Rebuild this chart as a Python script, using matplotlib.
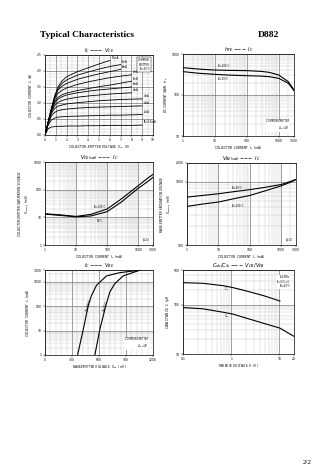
import matplotlib
matplotlib.use('Agg')
import matplotlib.pyplot as plt
from matplotlib.ticker import MultipleLocator, FixedLocator

W, H = 336, 475

# --- plot 1: IC - VCE
vce_pts = [0, 0.3, 0.6, 0.9, 1.2, 1.6, 2.0, 3.0, 4.0, 5.0, 6.0, 7.0, 8.0, 9.0]
ib_labels = ['10mA', '9mA', '8mA', '7mA', '6mA', '5mA', '4mA', '3mA', '2mA', '1mA', 'IB=0.5mA']
ic_curves = [
    [0, 0.42, 0.84, 1.22, 1.50, 1.70, 1.82, 1.98, 2.10, 2.22, 2.33],
    [0, 0.42, 0.83, 1.20, 1.45, 1.62, 1.72, 1.87, 1.97, 2.06, 2.14, 2.20],
    [0, 0.42, 0.82, 1.17, 1.40, 1.53, 1.61, 1.74, 1.83, 1.91, 1.98, 2.05],
    [0, 0.41, 0.80, 1.12, 1.30, 1.40, 1.47, 1.58, 1.66, 1.73, 1.79, 1.84, 1.88],
    [0, 0.41, 0.78, 1.05, 1.18, 1.26, 1.31, 1.39, 1.45, 1.51, 1.56, 1.62, 1.68],
    [0, 0.40, 0.76, 1.00, 1.12, 1.20, 1.25, 1.32, 1.37, 1.41, 1.44, 1.47, 1.50],
    [0, 0.39, 0.72, 0.92, 1.02, 1.08, 1.12, 1.18, 1.22, 1.25, 1.28, 1.30, 1.32],
    [0, 0.38, 0.68, 0.83, 0.90, 0.94, 0.97, 1.01, 1.04, 1.07, 1.09, 1.11, 1.12, 1.13],
    [0, 0.36, 0.60, 0.71, 0.76, 0.79, 0.81, 0.84, 0.86, 0.87, 0.88, 0.89, 0.90, 0.91],
    [0, 0.32, 0.47, 0.53, 0.56, 0.57, 0.58, 0.59, 0.60, 0.61, 0.62, 0.62, 0.63, 0.64],
    [0, 0.20, 0.25, 0.26, 0.27, 0.27, 0.28, 0.28, 0.29, 0.29, 0.30, 0.30, 0.30, 0.31],
]

# --- plot 2: hFE - IC
ic_hfe = [1, 3, 10, 30, 100, 300, 500, 1000, 2000, 3000]
hfe_100c = [464, 430, 406, 398, 393, 375, 357, 307, 211, 132]
hfe_25c = [371, 340, 319, 305, 296, 288, 280, 255, 193, 128]

# --- plot 3: VCE(sat) - IC
ic_sat = [1, 3, 10, 30, 100, 300, 1000, 2000, 3000]
vcesat_100c = [13.5, 12.3, 10.8, 12.8, 20, 48, 139, 257, 358]
vcesat_25c = [13.0, 11.8, 10.4, 11.2, 16, 37, 112, 194, 278]

# --- plot 4: VBE(sat) - IC
vbesat_25c = [575, 610, 650, 700, 755, 820, 910, 1020, 1100]
vbesat_100c = [410, 445, 480, 540, 610, 720, 865, 990, 1090]

# --- plot 5: IC - VBE
vbe_100c = [362, 425, 480, 517, 572, 683, 831, 1052]
ic_100c = [1, 11, 106, 275, 707, 1715, 2338, 2930]
vbe_25c = [554, 609, 676, 720, 775, 868, 1052]
ic_25c = [1, 11, 106, 376, 826, 1715, 2930]

# --- plot 6: Cob/Cib - VCB/VEB
vr_cib = [0.1, 0.26, 0.68, 1.09, 2.07, 4.61, 10.2]
cib = [277, 269, 241, 220, 188, 152, 118]
vr_cob = [0.1, 0.26, 0.68, 1.09, 2.07, 4.61, 10.2, 20]
cob = [87, 82, 70, 64, 53, 42, 33.4, 22.7]

TS = 2.2   # tick / label font size
LW = 0.8


def ax_at(fig, l, t, r, b):
    return fig.add_axes([l / W, 1 - b / H, (r - l) / W, (b - t) / H])


def style(ax):
    ax.tick_params(which='both', labelsize=TS, length=1.2, width=0.3, pad=1)
    ax.tick_params(which='minor', length=0)
    for s in ax.spines.values():
        s.set_linewidth(0.5)
    ax.grid(which='major', color='#666666', lw=0.45)
    ax.grid(which='minor', color='#b5b5b5', lw=0.25)
    ax.set_axisbelow(True)


fig = plt.figure(figsize=(W / 100, H / 100), dpi=100)
fig.text(40 / W, 1 - 35 / H, 'Typical Characteristics', family='Liberation Serif',
         weight='bold', fontsize=6.8, va='center')
fig.text(279 / W, 1 - 35 / H, 'D882', family='Liberation Serif',
         weight='bold', fontsize=6.8, va='center', ha='right')
fig.text(312 / W, 1 - 463 / H, '2/2', family='Liberation Serif', fontsize=5, ha='right', va='center')

# plot 1
ax = ax_at(fig, 45, 55, 153, 135)
for lab, ic in zip(ib_labels, ic_curves):
    v = vce_pts[:len(ic)]
    ax.plot(v, ic, color='k', lw=0.6)
    ax.text(v[-1] + 0.15, ic[-1] + 0.02, lab, fontsize=1.8, va='bottom')
ax.set_xlim(0, 10)
ax.set_ylim(0, 2.5)
ax.xaxis.set_major_locator(MultipleLocator(1))
ax.xaxis.set_minor_locator(MultipleLocator(0.5))
ax.yaxis.set_major_locator(MultipleLocator(0.5))
ax.yaxis.set_minor_locator(MultipleLocator(0.1))
style(ax)
ax.text(0.97, 0.96, 'COMMON\nEMITTER\nTa=25\u00b0C', transform=ax.transAxes, fontsize=1.8,
        ha='right', va='top', bbox=dict(fc='white', ec='k', lw=0.3, pad=0.8))
ax.set_title(r'$I_C$ $-\!\!-\!\!-$ $V_{CE}$', fontsize=3.6, pad=1.5)
ax.set_xlabel(r'COLLECTOR-EMITTER VOLTAGE  $V_{CE}$  (V)', fontsize=TS, labelpad=1)
ax.set_ylabel(r'COLLECTOR CURRENT  $I_C$  (A)', fontsize=TS, labelpad=1.5)

# plot 2
ax = ax_at(fig, 183, 54, 294, 136)
ax.plot(ic_hfe, hfe_100c, color='k', lw=LW)
ax.plot(ic_hfe, hfe_25c, color='k', lw=LW)
ax.set_xscale('log')
ax.set_yscale('log')
ax.set_xlim(1, 3000)
ax.set_ylim(10, 1000)
ax.xaxis.set_major_locator(FixedLocator([1, 10, 100, 1000, 3000]))
ax.set_xticklabels(['1', '10', '100', '1000', '3000'])
ax.set_yticks([10, 100, 1000])
ax.set_yticklabels(['10', '100', '1000'])
style(ax)
ax.text(12, 480, 'Ta=100\u00b0C', fontsize=1.8)
ax.text(12, 235, 'Ta=25\u00b0C', fontsize=1.8)
ax.text(0.96, 0.05, 'COMMON EMITTER\n$V_{CE}$=2V', transform=ax.transAxes, fontsize=1.8,
        ha='right', va='bottom', bbox=dict(fc='white', ec='none', pad=0.3))
ax.set_title(r'$h_{FE}$ $-\!\!-\!\!-$ $I_C$', fontsize=3.6, pad=1.5)
ax.set_xlabel(r'COLLECTOR CURRENT  $I_C$  (mA)', fontsize=TS, labelpad=1)
ax.set_ylabel(r'DC CURRENT GAIN  $h_{FE}$', fontsize=TS, labelpad=1.5)

# plot 3
ax = ax_at(fig, 45, 162, 153, 245)
ax.plot(ic_sat, vcesat_100c, color='k', lw=LW)
ax.plot(ic_sat, vcesat_25c, color='k', lw=LW)
ax.set_xscale('log')
ax.set_yscale('log')
ax.set_xlim(1, 3000)
ax.set_ylim(1, 1000)
ax.xaxis.set_major_locator(FixedLocator([1, 10, 100, 1000, 3000]))
ax.set_xticklabels(['1', '10', '100', '1000', '3000'])
ax.set_yticks([1, 10, 100, 1000])
ax.set_yticklabels(['1', '10', '100', '1000'])
style(ax)
ax.text(35, 22, 'Ta=100\u00b0C', fontsize=1.8)
ax.text(45, 7, '25\u00b0C', fontsize=1.8)
ax.text(0.97, 0.04, '\u03b2=10', transform=ax.transAxes, fontsize=1.8, ha='right', va='bottom',
        bbox=dict(fc='white', ec='none', pad=0.3))
ax.set_title(r'$V_{CE(sat)}$ $-\!\!-\!\!-$ $I_C$', fontsize=3.6, pad=1.5)
ax.set_xlabel(r'COLLECTOR CURRENT  $I_C$  (mA)', fontsize=TS, labelpad=1)
ax.set_ylabel('COLLECTOR-EMITTER SATURATION VOLTAGE\n' + r'$V_{CE(sat)}$  (mV)', fontsize=TS, labelpad=1.5)

# plot 4
ax = ax_at(fig, 187, 163, 296, 245)
ax.plot(ic_sat, vbesat_25c, color='k', lw=LW)
ax.plot(ic_sat, vbesat_100c, color='k', lw=LW)
ax.set_xscale('log')
ax.set_yscale('log')
ax.set_xlim(1, 3000)
ax.set_ylim(100, 2000)
ax.xaxis.set_major_locator(FixedLocator([1, 10, 100, 1000, 3000]))
ax.set_xticklabels(['1', '10', '100', '1000', '3000'])
ax.set_yticks([100, 1000, 2000])
ax.set_yticklabels(['100', '1000', '2000'])
style(ax)
ax.text(25, 760, 'Ta=25\u00b0C', fontsize=1.8)
ax.text(25, 400, 'Ta=100\u00b0C', fontsize=1.8)
ax.text(0.97, 0.04, '\u03b2=10', transform=ax.transAxes, fontsize=1.8, ha='right', va='bottom',
        bbox=dict(fc='white', ec='none', pad=0.3))
ax.set_title(r'$V_{BE(sat)}$ $-\!\!-\!\!-$ $I_C$', fontsize=3.6, pad=1.5)
ax.set_xlabel(r'COLLECTOR CURRENT  $I_C$  (mA)', fontsize=TS, labelpad=1)
ax.set_ylabel('BASE-EMITTER SATURATION VOLTAGE\n' + r'$V_{BE(sat)}$  (mV)', fontsize=TS, labelpad=1.5)

# plot 5
ax = ax_at(fig, 45, 270, 153, 355)
ax.plot(vbe_100c, ic_100c, color='k', lw=LW)
ax.plot(vbe_25c, ic_25c, color='k', lw=LW)
ax.set_yscale('log')
ax.set_xlim(0, 1200)
ax.set_ylim(1, 3000)
ax.xaxis.set_major_locator(MultipleLocator(300))
ax.xaxis.set_minor_locator(MultipleLocator(60))
ax.yaxis.set_major_locator(FixedLocator([1, 10, 100, 1000, 3000]))
ax.set_yticklabels(['1', '10', '100', '1000', '3000'])
style(ax)
ax.text(450, 60, 'Ta=100\u00b0C', fontsize=1.8, rotation=72)
ax.text(640, 60, 'Ta=25\u00b0C', fontsize=1.8, rotation=72)
ax.text(0.96, 0.06, 'COMMON EMITTER\n$V_{CE}$=2V', transform=ax.transAxes, fontsize=1.8,
        ha='right', va='bottom', bbox=dict(fc='white', ec='none', pad=0.3))
ax.set_title(r'$I_C$ $-\!\!-\!\!-$ $V_{BE}$', fontsize=3.6, pad=1.5)
ax.set_xlabel(r'BASE-EMITTER VOLTAGE  $V_{BE}$  (mV)', fontsize=TS, labelpad=1)
ax.set_ylabel(r'COLLECTOR CURRENT  $I_C$  (mA)', fontsize=TS, labelpad=1.5)

# plot 6
ax = ax_at(fig, 183, 270, 294, 354)
ax.plot(vr_cib, cib, color='k', lw=LW)
ax.plot(vr_cob, cob, color='k', lw=LW)
ax.set_xscale('log')
ax.set_yscale('log')
ax.set_xlim(0.1, 20)
ax.set_ylim(10, 500)
ax.xaxis.set_major_locator(FixedLocator([0.1, 1, 10, 20]))
ax.set_xticklabels(['0.1', '1', '10', '20'])
ax.set_yticks([10, 100, 500])
ax.set_yticklabels(['10', '100', '500'])
style(ax)
ax.text(0.72, 190, '$C_{ib}$', fontsize=1.8)
ax.text(0.72, 55, '$C_{ob}$', fontsize=1.8)
ax.text(0.96, 0.94, 'f=1MHz\nIE=0/IC=0\nTa=25\u00b0C', transform=ax.transAxes, fontsize=1.8,
        ha='right', va='top', bbox=dict(fc='white', ec='none', pad=0.3))
ax.set_title(r'$C_{ob}/C_{ib}$ $-\!\!-\!\!-$ $V_{CB}/V_{EB}$', fontsize=3.6, pad=1.5)
ax.set_xlabel(r'REVERSE VOLTAGE  $V$  (V)', fontsize=TS, labelpad=1)
ax.set_ylabel(r'CAPACITANCE  $C$  (pF)', fontsize=TS, labelpad=1.5)

fig.savefig('out.png', dpi=100)
